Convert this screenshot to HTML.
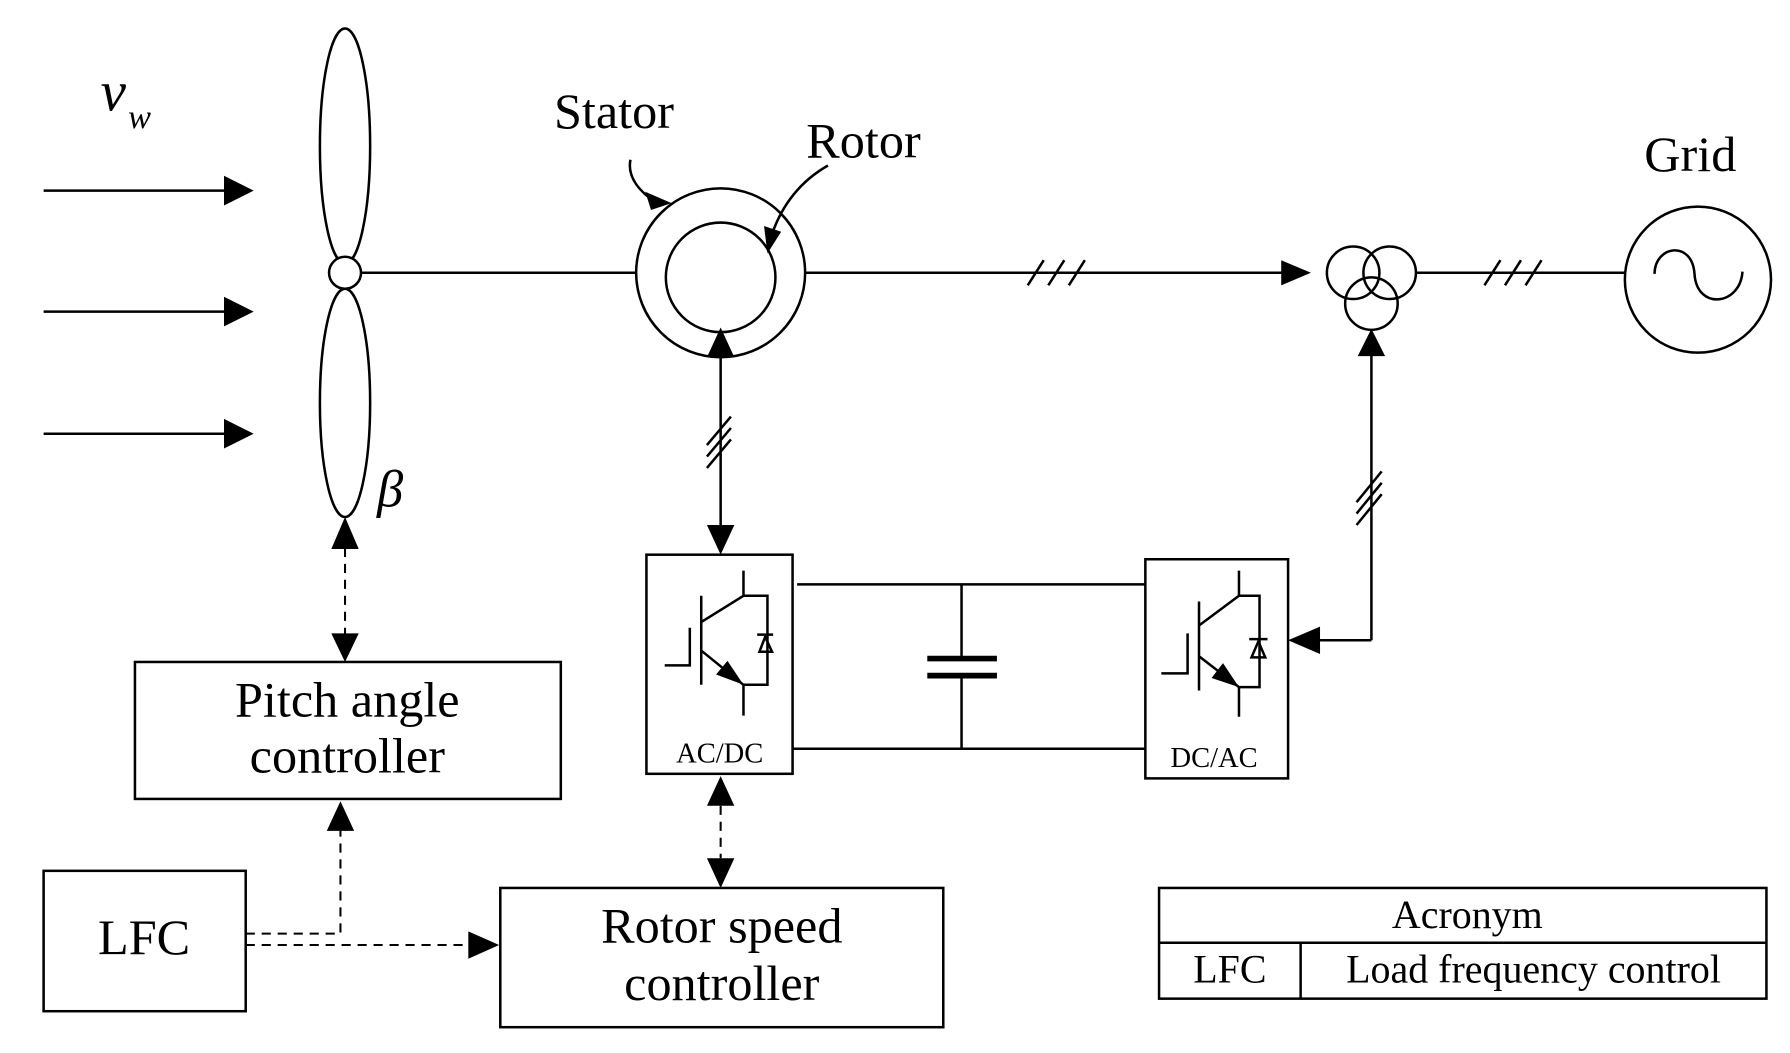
<!DOCTYPE html>
<html><head><meta charset="utf-8"><style>
html,body{margin:0;padding:0;background:#fff;}
svg{display:block;}
text{font-family:"Liberation Serif",serif;fill:#000;}
</style></head><body>
<svg width="1790" height="1053" viewBox="0 0 1560 918" preserveAspectRatio="none" xmlns="http://www.w3.org/2000/svg">
<g transform="translate(0.2,0) scale(0.995)">
<g stroke="#000" stroke-width="2.2" fill="none">
<line x1="38" y1="167" x2="200" y2="167"/><line x1="38" y1="273" x2="200" y2="273"/><line x1="38" y1="380" x2="200" y2="380"/>
<ellipse cx="302" cy="128" rx="22" ry="103"/>
<ellipse cx="302" cy="353" rx="22" ry="100"/>
<circle cx="302" cy="239" r="14" fill="#fff"/>
<line x1="316" y1="239" x2="557" y2="239"/>
<circle cx="631" cy="239" r="74"/>
<circle cx="631" cy="243" r="48"/>
<path d="M552 140 Q548 160 575 178"/>
<path d="M725 145 Q690 165 676 205"/>
<line x1="705" y1="239" x2="1125" y2="239"/>
<line x1="900" y1="250" x2="914" y2="228"/><line x1="918" y1="250" x2="932" y2="228"/><line x1="936" y1="250" x2="950" y2="228"/>
<circle cx="1185" cy="239" r="23"/><circle cx="1217" cy="239" r="23"/><circle cx="1201" cy="266" r="23"/>
<line x1="1240" y1="239" x2="1423" y2="239"/>
<line x1="1300" y1="250" x2="1314" y2="228"/><line x1="1318" y1="250" x2="1332" y2="228"/><line x1="1336" y1="250" x2="1350" y2="228"/>
<circle cx="1487" cy="245" r="64"/>
<path d="M1449 240 C1449 215 1482 210 1484 240 C1486 272 1524 268 1526 238"/>
<line x1="631" y1="310" x2="631" y2="462"/>
<line x1="619" y1="390" x2="640" y2="365"/><line x1="619" y1="400" x2="640" y2="375"/><line x1="619" y1="410" x2="640" y2="385"/>
<line x1="1201" y1="289" x2="1201" y2="561"/><line x1="1201" y1="561" x2="1155" y2="561"/>
<line x1="1188" y1="440" x2="1210" y2="413"/><line x1="1188" y1="450" x2="1210" y2="423"/><line x1="1188" y1="460" x2="1210" y2="433"/>
<rect x="566" y="486" width="128" height="192"/>
<rect x="1003" y="490" width="125" height="192"/>
<line x1="698" y1="512" x2="1003" y2="512"/><line x1="694" y1="656" x2="1003" y2="656"/>
<line x1="842" y1="512" x2="842" y2="577"/><line x1="842" y1="592" x2="842" y2="656"/>
<line x1="812" y1="577" x2="873" y2="577" stroke-width="5"/><line x1="812" y1="592" x2="873" y2="592" stroke-width="5"/>
<path d="M582 583 H604 V550 M614 522 V600 M614 545 L651 522 V500 M614 570 L651 600 V627 M651 522 H672 V600 H651"/>
<path d="M663 556 H677 M665 571 H676 L670 558 Z"/>
<path d="M1017 590 H1040 V555 M1050 527 V605 M1050 548 L1085 522 V500 M1050 575 L1085 602 V628 M1085 522 H1103 V602 H1085"/>
<path d="M1094 560 H1110 M1096 576 H1108 L1102 562 Z"/>
<rect x="118" y="580" width="373" height="120"/>
<rect x="38" y="763" width="177" height="123"/>
<rect x="438" y="778" width="388" height="122"/>
<rect x="1015" y="778" width="532" height="97"/>
<line x1="1015" y1="826" x2="1547" y2="826"/><line x1="1139" y1="826" x2="1139" y2="875"/>
<g stroke-dasharray="8,6" stroke-width="1.8">
<line x1="302" y1="480" x2="302" y2="556"/>
<line x1="631" y1="706" x2="631" y2="752"/>
<path d="M215 818 H298 V728"/>
<line x1="215" y1="828" x2="412" y2="828"/>
</g>
</g>
<g fill="#000">
<polygon points="196,154 222,167 196,180"/><polygon points="196,260 222,273 196,286"/><polygon points="196,367 222,380 196,393"/>
<polygon points="565,168 588,178 570,184"/>
<polygon points="669,198 684,203 672,222"/>
<polygon points="1122,228 1148,239 1122,250"/>
<polygon points="619,313 631,287 643,313"/>
<polygon points="619,460 631,486 643,460"/>
<polygon points="1189,312 1201,288 1213,312"/>
<polygon points="1156,549 1128,561 1156,573"/>
<polygon points="290,481 302,453 314,481"/>
<polygon points="290,555 302,580 314,555"/>
<polygon points="286,728 298,702 310,728"/>
<polygon points="619,706 631,680 643,706"/>
<polygon points="619,752 631,778 643,752"/>
<polygon points="410,816 437,828 410,840"/>
<polygon points="651,600 627,591 637,579"/>
<polygon points="1085,602 1061,594 1071,581"/>
</g>
<text x="88" y="97" font-size="50" font-style="italic">v</text>
<text x="112" y="112" font-size="30" font-style="italic">w</text>
<text x="330" y="444" font-size="46" font-style="italic">β</text>
<text x="485" y="112" font-size="44">Stator</text>
<text x="706" y="138" font-size="44">Rotor</text>
<text x="1440" y="150" font-size="44">Grid</text>
<text x="592" y="668" font-size="25">AC/DC</text>
<text x="1025" y="672" font-size="25">DC/AC</text>
<text x="304" y="628" font-size="44" text-anchor="middle">Pitch angle</text>
<text x="304" y="677" font-size="44" text-anchor="middle">controller</text>
<text x="126" y="836" font-size="44" text-anchor="middle">LFC</text>
<text x="632" y="826" font-size="44" text-anchor="middle">Rotor speed</text>
<text x="632" y="876" font-size="44" text-anchor="middle">controller</text>
<text x="1285" y="813" font-size="35" text-anchor="middle">Acronym</text>
<text x="1077" y="861" font-size="35" text-anchor="middle">LFC</text>
<text x="1343" y="861" font-size="35" text-anchor="middle">Load frequency control</text>
</g>
</svg>
</body></html>
